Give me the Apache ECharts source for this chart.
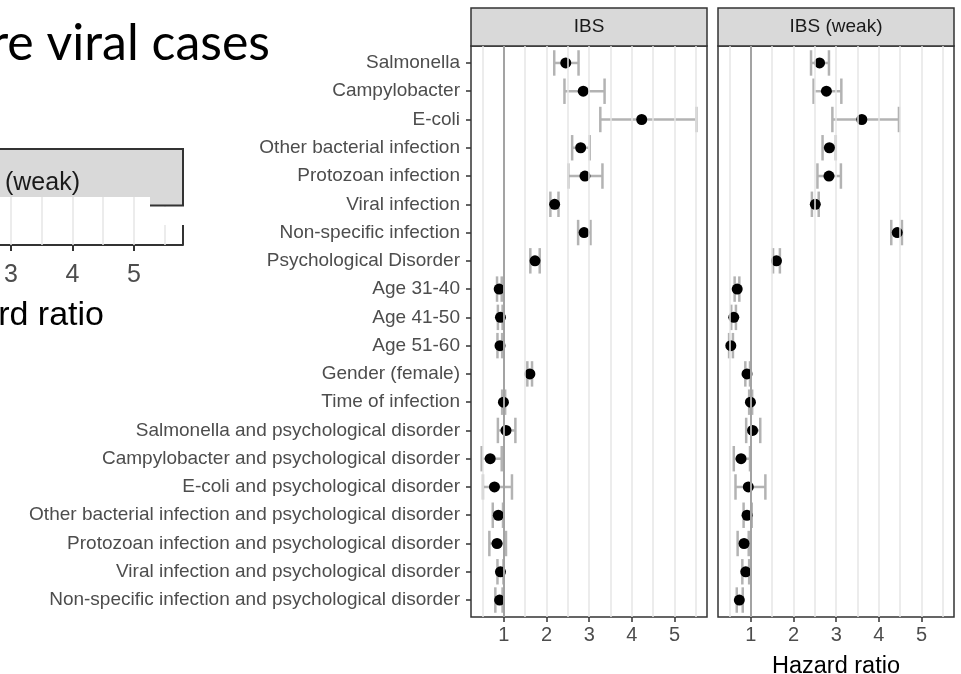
<!DOCTYPE html>
<html>
<head>
<meta charset="utf-8">
<title>Hazard ratio</title>
<script src="https://cdn.jsdelivr.net/npm/echarts@6/dist/echarts.min.js"></script>
<style>
html,body{margin:0;padding:0;background:#fff}
#main{width:961px;height:674px}
</style>
</head>
<body>
<div id="main"></div>
<script>
var categories = [
    'Salmonella',
    'Campylobacter',
    'E-coli',
    'Other bacterial infection',
    'Protozoan infection',
    'Viral infection',
    'Non-specific infection',
    'Psychological Disorder',
    'Age 31-40',
    'Age 41-50',
    'Age 51-60',
    'Gender (female)',
    'Time of infection',
    'Salmonella and psychological disorder',
    'Campylobacter and psychological disorder',
    'E-coli and psychological disorder',
    'Other bacterial infection and psychological disorder',
    'Protozoan infection and psychological disorder',
    'Viral infection and psychological disorder',
    'Non-specific infection and psychological disorder'
]
// IBS panel
var ibsHR   = [2.45, 2.86, 4.23, 2.80, 2.90, 2.19, 2.88, 1.73, 0.89, 0.92, 0.91, 1.61, 0.99, 1.05, 0.68, 0.78, 0.87, 0.84, 0.92, 0.90]
var ibsLow  = [2.18, 2.42, 3.26, 2.60, 2.51, 2.09, 2.74, 1.62, 0.84, 0.86, 0.85, 1.55, 0.96, 0.86, 0.48, 0.51, 0.74, 0.66, 0.85, 0.80]
var ibsHigh = [2.75, 3.36, 5.51, 3.01, 3.31, 2.28, 3.03, 1.84, 0.95, 0.97, 0.96, 1.66, 1.03, 1.27, 0.95, 1.19, 0.98, 1.05, 0.99, 0.97]
// IBS (weak) panel
var weakHR   = [2.61, 2.77, 3.60, 2.84, 2.83, 2.51, 4.43, 1.60, 0.68, 0.60, 0.53, 0.91, 0.99, 1.04, 0.77, 0.94, 0.91, 0.84, 0.88, 0.73]
var weakLow  = [2.41, 2.47, 2.91, 2.68, 2.56, 2.43, 4.29, 1.52, 0.62, 0.54, 0.49, 0.87, 0.96, 0.89, 0.60, 0.64, 0.83, 0.69, 0.80, 0.67]
var weakHigh = [2.83, 3.12, 4.47, 2.99, 3.11, 2.59, 4.54, 1.68, 0.73, 0.65, 0.58, 0.98, 1.03, 1.22, 0.98, 1.34, 1.02, 0.95, 0.96, 0.81]

var panelNames = ['IBS', 'IBS (weak)']
var xTicks = [1, 2, 3, 4, 5]
var gridValues = [0.5, 1, 1.5, 2, 2.5, 3, 3.5, 4, 4.5, 5, 5.5]
var refValue = 1
// leftover piece of another chart on the slide
var fragTicks = [3, 4, 5]
var fragGrid = [3, 3.5, 4, 4.5, 5, 5.5]

var rowIdx = categories.map(function (c, i) { return i })
var font = 'Liberation Sans'

function points(hr) {
    return hr.map(function (v, i) { return [v, i] })
}
function bars(lo, hi) {
    return lo.map(function (v, i) { return [i, v, hi[i]] })
}
function renderBar(params, api) {
    var i = api.value(0), lo = api.value(1), hi = api.value(2)
    var a = api.coord([lo, i]), b = api.coord([hi, i])
    var h = api.size([0, 0.9])[1] / 2
    var st = {stroke: '#b3b3b3', lineWidth: 2.5}
    return {type: 'group', children: [
        {type: 'line', shape: {x1: a[0], y1: a[1], x2: b[0], y2: b[1]}, style: st},
        {type: 'line', shape: {x1: a[0], y1: a[1] - h, x2: a[0], y2: a[1] + h}, style: st},
        {type: 'line', shape: {x1: b[0], y1: b[1] - h, x2: b[0], y2: b[1] + h}, style: st}
    ]}
}
function vlines(gi, values, color, width, z) {
    return {
        type: 'line', xAxisIndex: gi, yAxisIndex: gi, data: [], z: z, silent: true,
        markLine: {
            silent: true, symbol: 'none', animation: false, label: {show: false},
            lineStyle: {color: color, width: width, type: 'solid'},
            emphasis: {disabled: true},
            data: values.map(function (v) { return {xAxis: v} })
        }
    }
}
function xAxis(gi, name) {
    return {
        type: 'value', gridIndex: gi, min: 0.23, max: 5.76,
        splitLine: {show: false}, axisLine: {show: false, onZero: false},
        axisTick: {show: true, customValues: xTicks, length: 5, lineStyle: {color: '#333', width: 1.5}},
        axisLabel: {customValues: xTicks, margin: 8, fontSize: 20, color: '#4d4d4d', fontFamily: font},
        name: name, nameLocation: 'middle', nameGap: 38,
        nameTextStyle: {fontSize: 23.5, color: '#000', fontFamily: font}
    }
}
function yAxis(gi, labels) {
    return {
        type: 'value', gridIndex: gi, min: -0.6, max: 19.6, inverse: true,
        axisLine: {show: false, onZero: false}, splitLine: {show: false},
        axisTick: {show: labels, customValues: rowIdx, length: 5, lineStyle: {color: '#333', width: 1.5}},
        axisLabel: {
            show: labels, customValues: rowIdx, margin: 11, fontSize: 19, color: '#4d4d4d', fontFamily: font,
            formatter: function (v) { return categories[v] }
        }
    }
}

var lefts = [471, 718]
var panelW = 236
var strips = []
panelNames.forEach(function (n, k) {
    strips.push({type: 'rect', shape: {x: lefts[k], y: 8, width: panelW, height: 38},
        style: {fill: '#d9d9d9', stroke: '#333', lineWidth: 1.5}})
    strips.push({type: 'text', x: lefts[k] + panelW / 2, y: 27,
        style: {text: n, fontSize: 19, fontFamily: font, fill: '#1a1a1a', align: 'center', verticalAlign: 'middle'}})
})

var myChart = echarts.init(document.getElementById('main'))
var option = {
    animation: false,
    backgroundColor: '#fff',
    grid: [
        {left: lefts[0], top: 46, width: panelW, height: 571, outerBoundsMode: 'none',
            show: true, borderColor: '#333', borderWidth: 1.5, backgroundColor: '#fff'},
        {left: lefts[1], top: 46, width: panelW, height: 571, outerBoundsMode: 'none',
            show: true, borderColor: '#333', borderWidth: 1.5, backgroundColor: '#fff'},
        {left: 0, top: 197, width: 183, height: 48, outerBoundsMode: 'none', show: false}
    ],
    xAxis: [
        xAxis(0, ''),
        xAxis(1, 'Hazard ratio'),
        {
            type: 'value', gridIndex: 2, min: 2.821, max: 5.797,
            splitLine: {show: false},
            axisLine: {show: true, onZero: false, lineStyle: {color: '#333', width: 2}},
            axisTick: {show: true, customValues: fragTicks, length: 6, lineStyle: {color: '#333', width: 2}},
            axisLabel: {customValues: fragTicks, margin: 18, fontSize: 25, color: '#4d4d4d', fontFamily: font}
        }
    ],
    yAxis: [
        yAxis(0, true),
        yAxis(1, false),
        {type: 'value', gridIndex: 2, min: 0, max: 1, show: false}
    ],
    series: [
        vlines(0, gridValues, '#e6e6e6', 1.5, 1),
        vlines(1, gridValues, '#e6e6e6', 1.5, 1),
        vlines(2, fragGrid, '#e6e6e6', 1.5, 1),
        vlines(0, [refValue], '#a3a3a3', 2, 2),
        vlines(1, [refValue], '#a3a3a3', 2, 2),
        {type: 'custom', xAxisIndex: 0, yAxisIndex: 0, z: 3, silent: true,
            encode: {x: [1, 2], y: 0}, renderItem: renderBar, data: bars(ibsLow, ibsHigh)},
        {type: 'custom', xAxisIndex: 1, yAxisIndex: 1, z: 3, silent: true,
            encode: {x: [1, 2], y: 0}, renderItem: renderBar, data: bars(weakLow, weakHigh)},
        {type: 'scatter', xAxisIndex: 0, yAxisIndex: 0, z: 4, symbolSize: 11, silent: true,
            itemStyle: {color: '#000', opacity: 1}, data: points(ibsHR)},
        {type: 'scatter', xAxisIndex: 1, yAxisIndex: 1, z: 4, symbolSize: 11, silent: true,
            itemStyle: {color: '#000', opacity: 1}, data: points(weakHR)}
    ],
    graphic: strips.concat([
        // slide title fragment
        {type: 'text', x: 270, y: 44, z: 100,
            style: {text: 're viral cases', fontSize: 50, fontFamily: 'Lato', fill: '#000', align: 'right', verticalAlign: 'middle'}},
        // strip of the cut-off chart on the left
        {type: 'rect', z: 100, shape: {x: -5, y: 149, width: 189, height: 48}, style: {fill: '#d9d9d9'}},
        {type: 'polyline', z: 101, shape: {points: [[-5, 149], [183, 149], [183, 205]]},
            style: {stroke: '#333', lineWidth: 2, fill: null}},
        {type: 'rect', z: 100, shape: {x: 150, y: 197, width: 33, height: 8}, style: {fill: '#d9d9d9'}},
        {type: 'line', z: 101, shape: {x1: 150, y1: 205.5, x2: 184, y2: 205.5}, style: {stroke: '#333', lineWidth: 2}},
        {type: 'rect', z: 100, shape: {x: 150, y: 207, width: 50, height: 18}, style: {fill: '#fff'}},
        {type: 'line', z: 101, shape: {x1: 183, y1: 225, x2: 183, y2: 245}, style: {stroke: '#333', lineWidth: 2}},
        {type: 'text', x: 80, y: 183, z: 102,
            style: {text: 'IBS (weak)', fontSize: 25, fontFamily: font, fill: '#1a1a1a', align: 'right', verticalAlign: 'middle'}},
        {type: 'text', x: 104, y: 316, z: 102,
            style: {text: 'Hazard ratio', fontSize: 34, fontFamily: font, fill: '#000', align: 'right', verticalAlign: 'middle'}}
    ])
}
myChart.setOption(option)
</script>
</body>
</html>
